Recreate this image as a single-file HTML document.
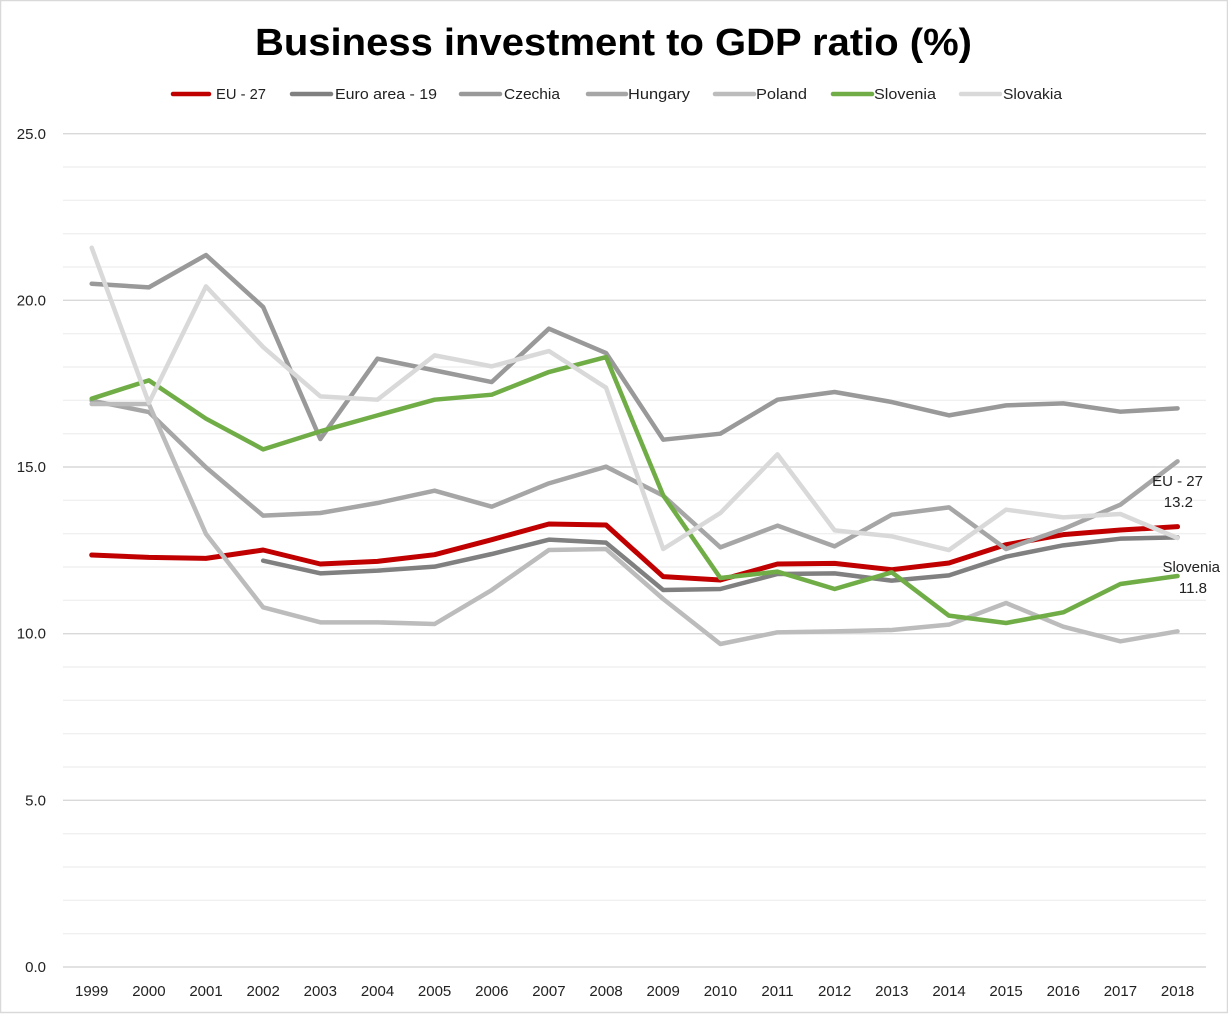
<!DOCTYPE html>
<html>
<head>
<meta charset="utf-8">
<style>
html,body{margin:0;padding:0;background:#fff;}
svg{display:block;}
text{font-family:"Liberation Sans",Arial,sans-serif;}
</style>
</head>
<body>
<svg width="1228" height="1014" viewBox="0 0 1228 1014" xmlns="http://www.w3.org/2000/svg">
<rect x="0.5" y="0.5" width="1227" height="1012" fill="#fff" stroke="#d9d9d9" stroke-width="1.5"/>

<text x="613.5" y="55" text-anchor="middle" font-size="38" font-weight="bold" fill="#000" textLength="717" lengthAdjust="spacingAndGlyphs">Business investment to GDP ratio (%)</text>

<!-- legend -->
<g stroke-width="4.5" stroke-linecap="round">
<line x1="173" y1="94" x2="209" y2="94" stroke="#c00000"/>
<line x1="292" y1="94" x2="331" y2="94" stroke="#808080"/>
<line x1="461" y1="94" x2="500" y2="94" stroke="#999999"/>
<line x1="588" y1="94" x2="626" y2="94" stroke="#a6a6a6"/>
<line x1="715" y1="94" x2="754" y2="94" stroke="#bcbcbc"/>
<line x1="833" y1="94" x2="872" y2="94" stroke="#70ad47"/>
<line x1="961" y1="94" x2="1000" y2="94" stroke="#d9d9d9"/>
</g>
<g font-size="15" fill="#222">
<text x="216" y="99" textLength="50" lengthAdjust="spacingAndGlyphs">EU - 27</text>
<text x="335" y="99" textLength="102" lengthAdjust="spacingAndGlyphs">Euro area - 19</text>
<text x="504" y="99" textLength="56" lengthAdjust="spacingAndGlyphs">Czechia</text>
<text x="628" y="99" textLength="62" lengthAdjust="spacingAndGlyphs">Hungary</text>
<text x="756" y="99" textLength="51" lengthAdjust="spacingAndGlyphs">Poland</text>
<text x="874" y="99" textLength="62" lengthAdjust="spacingAndGlyphs">Slovenia</text>
<text x="1003" y="99" textLength="59" lengthAdjust="spacingAndGlyphs">Slovakia</text>
</g>

<!-- gridlines -->
<g stroke-width="1.4">
<g stroke="#f0f0f0">
<line x1="63" x2="1206" y1="167" y2="167"/><line x1="63" x2="1206" y1="200.3" y2="200.3"/><line x1="63" x2="1206" y1="233.7" y2="233.7"/><line x1="63" x2="1206" y1="267" y2="267"/>
<line x1="63" x2="1206" y1="333.7" y2="333.7"/><line x1="63" x2="1206" y1="367" y2="367"/><line x1="63" x2="1206" y1="400.3" y2="400.3"/><line x1="63" x2="1206" y1="433.7" y2="433.7"/>
<line x1="63" x2="1206" y1="500.3" y2="500.3"/><line x1="63" x2="1206" y1="533.7" y2="533.7"/><line x1="63" x2="1206" y1="567" y2="567"/><line x1="63" x2="1206" y1="600.3" y2="600.3"/>
<line x1="63" x2="1206" y1="667" y2="667"/><line x1="63" x2="1206" y1="700.3" y2="700.3"/><line x1="63" x2="1206" y1="733.7" y2="733.7"/><line x1="63" x2="1206" y1="767" y2="767"/>
<line x1="63" x2="1206" y1="833.7" y2="833.7"/><line x1="63" x2="1206" y1="867" y2="867"/><line x1="63" x2="1206" y1="900.3" y2="900.3"/><line x1="63" x2="1206" y1="933.7" y2="933.7"/>
</g>
<g stroke="#d9d9d9">
<line x1="63" x2="1206" y1="133.7" y2="133.7"/>
<line x1="63" x2="1206" y1="300.3" y2="300.3"/>
<line x1="63" x2="1206" y1="467" y2="467"/>
<line x1="63" x2="1206" y1="633.7" y2="633.7"/>
<line x1="63" x2="1206" y1="800.3" y2="800.3"/>
<line x1="63" x2="1206" y1="967" y2="967"/>
</g>
</g>

<!-- y labels -->
<g font-size="15" fill="#222" text-anchor="end">
<text x="46" y="139">25.0</text>
<text x="46" y="305.5">20.0</text>
<text x="46" y="472">15.0</text>
<text x="46" y="638.5">10.0</text>
<text x="46" y="805.5">5.0</text>
<text x="46" y="972">0.0</text>
</g>

<!-- x labels -->
<g font-size="15" fill="#222" text-anchor="middle">
<text x="91.7" y="996">1999</text>
<text x="148.9" y="996">2000</text>
<text x="206" y="996">2001</text>
<text x="263.2" y="996">2002</text>
<text x="320.3" y="996">2003</text>
<text x="377.5" y="996">2004</text>
<text x="434.6" y="996">2005</text>
<text x="491.8" y="996">2006</text>
<text x="548.9" y="996">2007</text>
<text x="606.1" y="996">2008</text>
<text x="663.2" y="996">2009</text>
<text x="720.4" y="996">2010</text>
<text x="777.5" y="996">2011</text>
<text x="834.7" y="996">2012</text>
<text x="891.8" y="996">2013</text>
<text x="949" y="996">2014</text>
<text x="1006.1" y="996">2015</text>
<text x="1063.3" y="996">2016</text>
<text x="1120.4" y="996">2017</text>
<text x="1177.6" y="996">2018</text>
</g>

<!-- series -->
<g transform="translate(91.7,967.3) scale(57.15,-33.33)" fill="none" stroke-linejoin="round" stroke-linecap="round">
<polyline vector-effect="non-scaling-stroke" stroke="#c00000" stroke-width="5" points="0,12.37 1,12.30 2,12.27 3,12.52 4,12.10 5,12.18 6,12.38 7,12.83 8,13.30 9,13.27 10,11.72 11,11.62 12,12.10 13,12.12 14,11.93 15,12.13 16,12.68 17,12.98 18,13.12 19,13.22"/>
<polyline vector-effect="non-scaling-stroke" stroke="#808080" stroke-width="4.5" points="3,12.2 4,11.82 5,11.9 6,12.02 7,12.4 8,12.83 9,12.74 10,11.32 11,11.35 12,11.8 13,11.82 14,11.6 15,11.76 16,12.32 17,12.66 18,12.86 19,12.9"/>
<polyline vector-effect="non-scaling-stroke" stroke="#999999" stroke-width="4.5" points="0,20.51 1,20.40 2,21.37 3,19.81 4,15.85 5,18.26 6,17.91 7,17.56 8,19.16 9,18.43 10,15.83 11,16.01 12,17.03 13,17.26 14,16.96 15,16.56 16,16.86 17,16.92 18,16.67 19,16.77"/>
<polyline vector-effect="non-scaling-stroke" stroke="#a6a6a6" stroke-width="4.5" points="0,17.0 1,16.66 2,15.0 3,13.55 4,13.63 5,13.93 6,14.3 7,13.82 8,14.52 9,15.02 10,14.15 11,12.6 12,13.25 13,12.63 14,13.58 15,13.8 16,12.55 17,13.15 18,13.88 19,15.18"/>
<polyline vector-effect="non-scaling-stroke" stroke="#bcbcbc" stroke-width="4.5" points="0,16.9 1,16.9 2,13.0 3,10.8 4,10.35 5,10.35 6,10.3 7,11.32 8,12.52 9,12.55 10,11.05 11,9.7 12,10.05 13,10.08 14,10.12 15,10.28 16,10.93 17,10.22 18,9.78 19,10.08"/>
<polyline vector-effect="non-scaling-stroke" stroke="#70ad47" stroke-width="4.5" points="0,17.06 1,17.61 2,16.46 3,15.54 4,16.08 5,16.56 6,17.03 7,17.18 8,17.86 9,18.31 10,14.16 11,11.68 12,11.87 13,11.35 14,11.85 15,10.55 16,10.33 17,10.65 18,11.5 19,11.74"/>
<polyline vector-effect="non-scaling-stroke" stroke="#d9d9d9" stroke-width="4.5" points="0,21.59 1,16.93 2,20.43 3,18.61 4,17.13 5,17.03 6,18.36 7,18.03 8,18.49 9,17.39 10,12.55 11,13.63 12,15.39 13,13.11 14,12.93 15,12.52 16,13.73 17,13.5 18,13.6 19,12.88"/>
</g>

<!-- annotations -->
<g font-size="15" fill="#222" text-anchor="end">
<text x="1203" y="486">EU - 27</text>
<text x="1193" y="507">13.2</text>
<text x="1220" y="572">Slovenia</text>
<text x="1207" y="593">11.8</text>
</g>
</svg>
</body>
</html>
